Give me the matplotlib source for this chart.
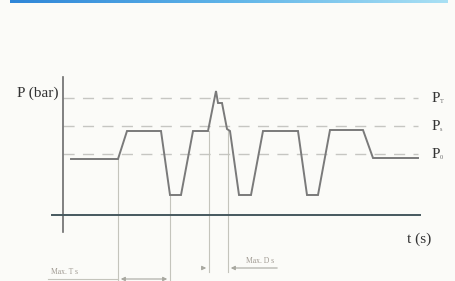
import numpy as np
import matplotlib
matplotlib.use("Agg")
import matplotlib.pyplot as plt
from matplotlib.colors import LinearSegmentedColormap

# ---- data (time in s, pressure in bar, arbitrary units) ----
t_wave = [0.8, 5.5, 6.4, 9.8, 10.7, 11.8, 13.0, 14.5, 15.3, 15.5, 15.9, 16.4,
          16.7, 17.6, 18.8, 20.0, 23.5, 24.4, 25.5, 26.7, 30.0, 31.0, 35.5]
p_wave = [5.6, 5.6, 8.4, 8.4, 2.0, 2.0, 8.4, 8.4, 12.4, 11.2, 11.2, 8.6,
          8.4, 2.0, 2.0, 8.4, 8.4, 2.0, 2.0, 8.5, 8.5, 5.7, 5.7]
levels = [11.7, 8.9, 6.1]
level_subs = ["T", "s", "0"]
t_end = 35.5
guide_t = [5.5, 10.7, 14.6, 16.5]
guide_p = [5.6, 2.0, 8.4, 8.4]

plt.rcParams['font.family'] = ['Liberation Serif', 'DejaVu Serif']

fig = plt.figure(figsize=(4.56, 2.81), dpi=100)
fig.patch.set_facecolor('#fbfbf8')
ax = fig.add_axes([0, 0, 1, 1])
ax.set_facecolor('#fbfbf8')
ax.set_xlim(-6.3, 39.3)
ax.set_ylim(-6.6, 21.5)
ax.axis('off')

# top gradient bar
bar = fig.add_axes([10/456, 1-3/281, 438/456, 3/281])
cmap = LinearSegmentedColormap.from_list('b', ['#2f86d8', '#5fb4e8', '#a9e0f4'])
bar.imshow(np.linspace(0, 1, 256)[None, :], aspect='auto', cmap=cmap)
bar.axis('off')

# dashed levels
for lv, sub in zip(levels, level_subs):
    ax.plot([0, t_end], [lv, lv], color='#c6c6c2', lw=1.0,
            dashes=(8, 6), zorder=1)
    ax.text(36.9, lv, "P", fontsize=11, color='#333333', va='center', ha='left')
    ax.text(37.65, lv - 0.35, sub, fontsize=4.5, color='#666666', va='center', ha='left')

# axes
ax.plot([0, 0], [13.8, -1.7], color='#6c6c6c', lw=1.2, zorder=3)
ax.plot([-1.1, 35.7], [0, 0], color='#46585e', lw=1.4, zorder=3)

# guide lines
bottoms = [-6.6, -6.6, -5.7, -5.7]
for gt, gp, gb in zip(guide_t, guide_p, bottoms):
    ax.plot([gt, gt], [gp, gb], color='#c4c4bc', lw=0.8, zorder=1)

# waveform
ax.plot(t_wave, p_wave, color='#7a7a7a', lw=1.4, zorder=4, solid_joinstyle='miter')

# dimension marks
ax.plot([-1.5, 5.5], [-6.4, -6.4], color='#c4c4bc', lw=0.8)
ax.annotate('', xy=(5.5, -6.4), xytext=(10.7, -6.4),
            arrowprops=dict(arrowstyle='<|-|>', color='#a8a8a0', lw=0.8,
                            mutation_scale=6))
ax.annotate('', xy=(14.6, -5.3), xytext=(13.6, -5.3),
            arrowprops=dict(arrowstyle='-|>', color='#a8a8a0', lw=0.8,
                            mutation_scale=6))
ax.annotate('', xy=(16.5, -5.3), xytext=(21.7, -5.3),
            arrowprops=dict(arrowstyle='-|>', color='#a8a8a0', lw=0.8,
                            mutation_scale=6))
ax.text(-1.2, -5.7, "Max. T s", fontsize=5.5, color='#a09a92', va='center')
ax.text(18.3, -4.6, "Max. D s", fontsize=5.5, color='#a09a92', va='center')

# axis labels
ax.text(-4.6, 12.2, "P (bar)", fontsize=11, color='#333333', va='center')
ax.text(34.4, -2.4, "t (s)", fontsize=11, color='#333333', va='center')

fig.savefig('out.png', dpi=100, facecolor=fig.get_facecolor())
